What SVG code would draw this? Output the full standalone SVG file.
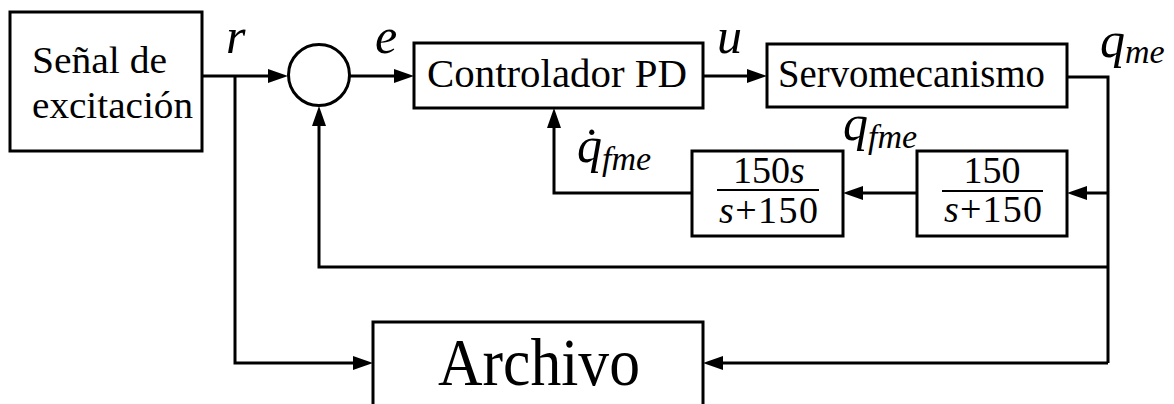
<svg xmlns="http://www.w3.org/2000/svg" width="1174" height="404" viewBox="0 0 1174 404">
<style>
.box{fill:#fff;stroke:#000;stroke-width:3}
.ln{fill:none;stroke:#000;stroke-width:3}
.bar{stroke:#000;stroke-width:2}
.ah{fill:#000}
</style>
<defs>
<path id="ahR" d="M-20,-7 L0,0 L-20,7 Z"/>
</defs>
<rect width="1174" height="404" fill="#fff"/>
<g id="connectors">
<path class="ln" d="M202,76 H270"/>
<path class="ln" d="M235,76 V363 H356"/>
<path class="ln" d="M350,76 H396"/>
<path class="ln" d="M703,76 H749"/>
<path class="ln" d="M1067,77 H1108 V363"/>
<path class="ln" d="M1108,363 H720"/>
<path class="ln" d="M1108,193 H1084"/>
<path class="ln" d="M917,193 H860"/>
<path class="ln" d="M692,193 H554 V125"/>
<path class="ln" d="M1108,267 H319 V122"/>
<use href="#ahR" class="ah" transform="translate(288,76)"/>
<use href="#ahR" class="ah" transform="translate(373,363)"/>
<use href="#ahR" class="ah" transform="translate(414,76)"/>
<use href="#ahR" class="ah" transform="translate(767,76)"/>
<use href="#ahR" class="ah" transform="translate(703,363) rotate(180)"/>
<use href="#ahR" class="ah" transform="translate(1067,193) rotate(180)"/>
<use href="#ahR" class="ah" transform="translate(843,193) rotate(180)"/>
<use href="#ahR" class="ah" transform="translate(554,108) rotate(-90)"/>
<use href="#ahR" class="ah" transform="translate(319,106) rotate(-90)"/>
</g>
<g id="senal">
<rect class="box" x="10" y="12" width="192" height="139"/>
<text x="32" y="73" font-size="38" font-family="Liberation Serif, serif" textLength="135" lengthAdjust="spacingAndGlyphs">Señal de</text>
<text x="32" y="118" font-size="38" font-family="Liberation Serif, serif" textLength="161" lengthAdjust="spacingAndGlyphs">excitación</text>
</g>
<g id="sum">
<circle cx="319" cy="75" r="30.5" fill="#fff" stroke="#000" stroke-width="3"/>
</g>
<g id="controlador">
<rect class="box" x="414" y="43" width="289" height="65"/>
<text x="427" y="87" font-size="39" font-family="Liberation Serif, serif" textLength="260" lengthAdjust="spacingAndGlyphs">Controlador PD</text>
</g>
<g id="servo">
<rect class="box" x="767" y="44" width="300" height="63"/>
<text x="778" y="87" font-size="39" font-family="Liberation Serif, serif" textLength="267" lengthAdjust="spacingAndGlyphs">Servomecanismo</text>
</g>
<g id="derivador">
<rect class="box" x="692" y="151" width="151" height="85"/>
<text x="733" y="183" font-size="38" font-family="Liberation Serif, serif">150<tspan font-style="italic">s</tspan></text>
<line class="bar" x1="717" y1="190" x2="819" y2="190"/>
<text x="719" y="223" font-size="38" font-family="Liberation Serif, serif" textLength="99" lengthAdjust="spacing"><tspan font-style="italic">s</tspan>+150</text>
</g>
<g id="filtro">
<rect class="box" x="917" y="151" width="150" height="85"/>
<text x="992" y="183" font-size="38" font-family="Liberation Serif, serif" text-anchor="middle">150</text>
<line class="bar" x1="942" y1="191" x2="1043" y2="191"/>
<text x="944" y="222" font-size="38" font-family="Liberation Serif, serif" textLength="98" lengthAdjust="spacing"><tspan font-style="italic">s</tspan>+150</text>
</g>
<g id="archivo">
<rect class="box" x="373" y="322" width="330" height="100"/>
<text x="438" y="385" font-size="68" font-family="Liberation Serif, serif" textLength="202" lengthAdjust="spacingAndGlyphs">Archivo</text>
</g>
<g id="labels">
<text x="226" y="53" font-size="50" font-family="Liberation Serif, serif" font-style="italic">r</text>
<text x="375" y="53" font-size="50" font-family="Liberation Serif, serif" font-style="italic">e</text>
<text x="717" y="53" font-size="50" font-family="Liberation Serif, serif" font-style="italic">u</text>
<text x="1100" y="57" font-size="50" font-family="Liberation Serif, serif" font-style="italic">q<tspan font-size="34" dy="6">me</tspan></text>
<text x="843" y="140" font-size="50" font-family="Liberation Serif, serif" font-style="italic">q<tspan font-size="34" dy="8">fme</tspan></text>
<text x="577" y="162" font-size="50" font-family="Liberation Serif, serif" font-style="italic">q̇<tspan font-size="34" dy="8">fme</tspan></text>
</g>
</svg>
